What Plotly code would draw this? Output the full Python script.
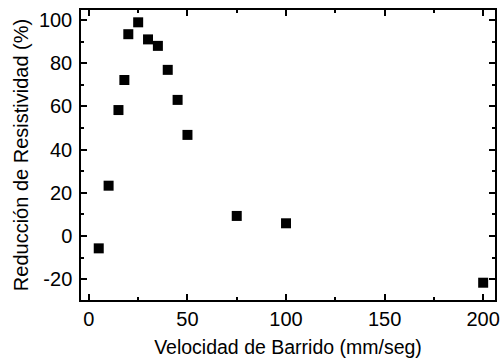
import plotly.graph_objects as go

velocidad = [5, 10, 15, 18, 20, 25, 30, 35, 40, 45, 50, 75, 100, 200]
reduccion = [-5.7, 23.3, 58.3, 72.2, 93.4, 98.9, 91, 88, 76.9, 63, 46.8, 9.3, 5.9, -21.6]
x_ticks = [0, 50, 100, 150, 200]
y_ticks = [-20, 0, 20, 40, 60, 80, 100]

fig = go.Figure(go.Scatter(
    x=velocidad, y=reduccion, mode="markers",
    marker=dict(symbol="square", size=10, color="black"),
))

font = "Liberation Sans, Arial, sans-serif"
axis_common = dict(
    showgrid=False, zeroline=False, showline=True, linecolor="black", linewidth=1.5,
    ticks="inside", ticklen=6, tickwidth=1.5, tickcolor="black", mirror="ticks",
    tickfont=dict(family=font, size=20, color="black"), automargin=False,
)
fig.update_xaxes(
    range=[-4, 206], tickvals=x_ticks, ticktext=[str(v) for v in x_ticks],
    minor=dict(ticks="inside", ticklen=3, tickcolor="black", dtick=25, tick0=0),
    title=dict(text="Velocidad de Barrido (mm/seg)", font=dict(family=font, size=19.5, color="black"), standoff=12),
    **axis_common,
)
fig.update_yaxes(
    range=[-29.6, 104.6], tickvals=y_ticks, ticktext=[str(v) for v in y_ticks],
    minor=dict(ticks="inside", ticklen=3, tickcolor="black", dtick=10, tick0=0),
    title=dict(text="Reducción de Resistividad (%)", font=dict(family=font, size=20, color="black"), standoff=5),
    ticklabelstandoff=3,
    **axis_common,
)
fig.update_layout(
    width=504, height=359, margin=dict(l=81, r=9, t=10, b=59),
    paper_bgcolor="white", plot_bgcolor="white", showlegend=False,
)
fig.write_html("out.html")
